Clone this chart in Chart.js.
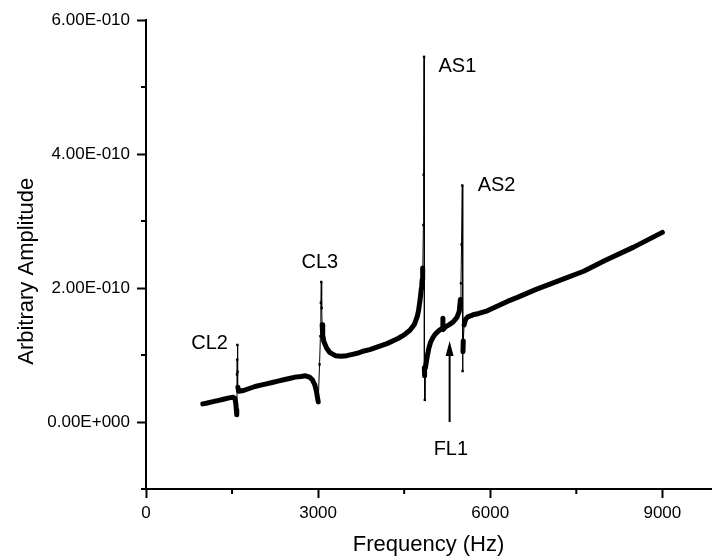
<!DOCTYPE html>
<html>
<head>
<meta charset="utf-8">
<script src="https://cdn.jsdelivr.net/npm/chart.js@4.4.0/dist/chart.umd.min.js"></script>
<style>
  body { margin: 0; background: #fff; }
  .chart-box { width: 715px; height: 558px; }
</style>
</head>
<body>
<div class="chart-box"><canvas id="spectrum"></canvas></div>
<script>
  // measured spectrum, amplitude in units of 1E-010
  let freq = [
    990, 1050, 1150, 1250, 1350, 1450, 1520, 1550, 1565, 1575, 1582,
    1586, 1589, 1593, 1597, 1602, 1615, 1700, 1800, 1900, 2000, 2100,
    2200, 2300, 2400, 2500, 2600, 2700, 2780, 2850, 2900, 2940, 2970,
    2990, 3002, 3025, 3040, 3048, 3055, 3062, 3070, 3080, 3100, 3150,
    3200, 3300, 3400, 3500, 3600, 3700, 3800, 3900, 4000, 4100, 4200,
    4300, 4400, 4500, 4600, 4680, 4730, 4750, 4770, 4785, 4800, 4808,
    4815, 4820, 4825, 4835, 4840, 4847, 4852, 4856, 4860, 4870, 4900,
    4930, 4960, 5000, 5050, 5100, 5150, 5170, 5175, 5182, 5220, 5280,
    5350, 5420, 5460, 5480, 5490, 5500, 5513, 5518, 5525, 5530, 5545,
    5570, 5610, 5700, 5800, 5950, 6100, 6300, 6474, 6800, 7166, 7629,
    8000, 8500, 9000
  ];
  let amp = [
    0.27, 0.28, 0.30, 0.32, 0.34, 0.36, 0.37, 0.35, 0.28, 0.18, 0.11,
    0.71, 0.93, 1.15, 0.75, 0.52, 0.46, 0.47, 0.50, 0.53, 0.55, 0.57,
    0.59, 0.61, 0.63, 0.65, 0.67, 0.68, 0.69, 0.67, 0.63, 0.56, 0.46,
    0.36, 0.30, 0.86, 1.28, 1.78, 2.09, 1.70, 1.45, 1.30, 1.20, 1.10,
    1.04, 0.99, 0.98, 0.99, 1.01, 1.03, 1.06, 1.08, 1.11, 1.14, 1.17,
    1.21, 1.25, 1.30, 1.37, 1.46, 1.58, 1.66, 1.78, 1.88, 2.00, 2.06,
    2.13, 2.20, 2.30, 2.94, 3.69, 5.45, 0.81, 0.69, 0.33, 0.81, 0.97,
    1.10, 1.19, 1.26, 1.32, 1.36, 1.39, 1.41, 1.55, 1.38, 1.42, 1.45,
    1.49, 1.56, 1.65, 1.83, 2.07, 2.65, 3.53, 0.76, 1.05, 1.21, 1.45,
    1.53, 1.57, 1.60, 1.62, 1.66, 1.72, 1.80, 1.86, 1.98, 2.10, 2.25,
    2.41, 2.61, 2.83
  ];

  let xTicks = [0, 3000, 6000, 9000];
  let xMinorTicks = [1500, 4500, 7500];
  let yTicks = [0, 2, 4, 6];
  let yMinorTicks = [-1, 1, 3, 5];

  // peak labels
  let peakNames = ["CL2", "CL3", "AS1", "AS2", "FL1"];
  let peakFreq = [1108, 3029, 5427, 6110, 5314];
  let peakAmp = [1.17, 2.38, 5.31, 3.53, -0.41];
  let arrowFreq = 5292;
  let arrowFrom = 0.0;
  let arrowTo = 1.21;

  let yTitle = "Arbitrary Amplitude";
  let mainFont = "'Liberation Sans', Arial, Helvetica, sans-serif";

  function sciLabel(v) {
    let val = v * 1e-10;
    if (Math.abs(v) < 1e-9) return "0.00E+000";
    let e = Math.floor(Math.log10(Math.abs(val)) + 1e-9);
    let m = val / Math.pow(10, e);
    return m.toFixed(2) + "E" + (e < 0 ? "-" : "+") + String(Math.abs(e)).padStart(3, "0");
  }

  // minor ticks, y title, peak labels and the FL1 arrow
  let extrasPlugin = {
    id: "extras",
    afterDraw(chart) {
      let ctx = chart.ctx;
      let xs = chart.scales.x, ys = chart.scales.y;
      let area = chart.chartArea;
      ctx.save();
      ctx.strokeStyle = "#000";
      ctx.lineWidth = 2;
      xMinorTicks.forEach(v => {
        let px = xs.getPixelForValue(v);
        ctx.beginPath();
        ctx.moveTo(px, area.bottom);
        ctx.lineTo(px, area.bottom + 5);
        ctx.stroke();
      });
      yMinorTicks.forEach(v => {
        let py = ys.getPixelForValue(v);
        ctx.beginPath();
        ctx.moveTo(area.left, py);
        ctx.lineTo(area.left - 5, py);
        ctx.stroke();
      });

      ctx.fillStyle = "#000";
      ctx.textAlign = "center";
      ctx.textBaseline = "middle";

      // y axis title sits a bit below the middle of the axis in the original
      ctx.save();
      ctx.font = "22px " + mainFont;
      ctx.translate(27, ys.getPixelForValue(2.25));
      ctx.rotate(-Math.PI / 2);
      ctx.fillText(yTitle, 0, 0);
      ctx.restore();

      ctx.font = "20px " + mainFont;
      peakNames.forEach((n, i) => {
        ctx.fillText(n, xs.getPixelForValue(peakFreq[i]), ys.getPixelForValue(peakAmp[i]));
      });

      let ax = xs.getPixelForValue(arrowFreq);
      let y0 = ys.getPixelForValue(arrowFrom);
      let y1 = ys.getPixelForValue(arrowTo);
      ctx.lineWidth = 2;
      ctx.beginPath();
      ctx.moveTo(ax, y0);
      ctx.lineTo(ax, y1 + 10);
      ctx.stroke();
      ctx.beginPath();
      ctx.moveTo(ax, y1);
      ctx.lineTo(ax - 4, y1 + 15);
      ctx.lineTo(ax + 4, y1 + 15);
      ctx.closePath();
      ctx.fill();
      ctx.restore();
    }
  };

  let points = freq.map((f, i) => ({ x: f, y: amp[i] }));

  new Chart(document.getElementById("spectrum"), {
    type: "scatter",
    data: {
      datasets: [{
        data: points,
        showLine: true,
        borderColor: "#000",
        backgroundColor: "#000",
        borderWidth: 5,
        borderJoinStyle: "round",
        borderCapStyle: "round",
        pointStyle: "rect",
        pointRadius: 1.7,
        pointBorderWidth: 0,
        segment: {
          // steep parts (the resonance spikes) are thin lines with markers
          borderWidth: c => {
            let dx = Math.abs(c.p1.x - c.p0.x);
            let dy = Math.abs(c.p1.y - c.p0.y);
            return dy > 3 * dx + 10 ? 1 : 5;
          }
        }
      }]
    },
    options: {
      responsive: true,
      maintainAspectRatio: false,
      animation: false,
      layout: { padding: { left: 0, top: 20, right: 0, bottom: 0 } },
      plugins: { legend: { display: false }, tooltip: { enabled: false } },
      scales: {
        x: {
          type: "linear",
          min: 0,
          max: 9848,
          afterBuildTicks: s => { s.ticks = xTicks.map(v => ({ value: v })); },
          afterFit: s => { s.height = 69; },
          border: { color: "#000", width: 2 },
          grid: { drawOnChartArea: false, drawTicks: true, tickLength: 9, tickWidth: 2, tickColor: "#000" },
          ticks: { color: "#000", padding: 5, maxRotation: 0, callback: v => String(v), font: { family: mainFont, size: 17 } },
          title: {
            display: true,
            text: "Frequency (Hz)",
            color: "#000",
            padding: { top: 0, bottom: 0 },
            font: { family: mainFont, size: 22 }
          }
        },
        y: {
          type: "linear",
          min: -1,
          max: 6,
          afterBuildTicks: s => { s.ticks = yTicks.map(v => ({ value: v })); },
          afterFit: s => { s.width = 146; },
          border: { color: "#000", width: 2 },
          grid: { drawOnChartArea: false, drawTicks: true, tickLength: 9, tickWidth: 2, tickColor: "#000" },
          ticks: { color: "#000", padding: 7, callback: v => sciLabel(v), font: { family: mainFont, size: 17 } }
        }
      }
    },
    plugins: [extrasPlugin]
  });
</script>
</body>
</html>
